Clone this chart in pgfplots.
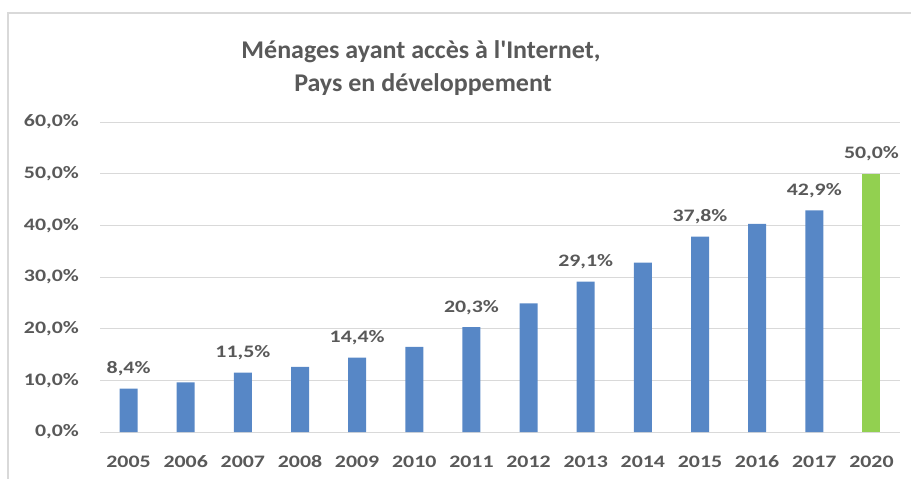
\documentclass[border=0pt]{standalone}
\usepackage{fontspec}
\setmainfont{Carlito}[FakeStretch=1.25]
\newfontfamily\titlefont{Carlito}[FakeStretch=1.02]
\usepackage{pgfplots}
\pgfplotsset{compat=1.18}
\definecolor{barblue}{HTML}{5787C6}
\definecolor{bargreen}{HTML}{92D050}
\definecolor{txtgray}{HTML}{595959}
\definecolor{gridgray}{HTML}{D9D9D9}

\begin{document}
\begin{tikzpicture}
  % page frame (911 x 479)
  \path[use as bounding box] (0pt,0pt) rectangle (911pt,-479pt);
  \draw[gridgray, line width=1.5pt] (8pt,-479pt) -- (8pt,-13pt) -- (911pt,-13pt);

  % title, two lines
  \node[font=\titlefont\bfseries\fontsize{25.5}{30}\selectfont, text=txtgray, anchor=base, inner sep=0pt]
    at (421pt,-58pt) {Ménages ayant accès à l\textquotesingle Internet,};
  \node[font=\titlefont\bfseries\fontsize{25.5}{30}\selectfont, text=txtgray, anchor=base, inner sep=0pt]
    at (423pt,-91.5pt) {Pays en développement};

  \begin{axis}[
    at={(100pt,-432pt)}, anchor=south west,
    scale only axis,
    width=800pt, height=310pt,
    xmin=-0.5, xmax=13.5,
    ymin=0, ymax=60,
    ytick={0,10,...,60},
    xtick={0,...,13},
    xticklabels={2005,2006,2007,2008,2009,2010,2011,2012,2013,2014,2015,2016,2017,2020},
    ymajorgrids,
    grid style={gridgray, line width=1pt},
    axis line style={draw=none},
    major tick length=0pt,
    /pgf/number format/assume math mode=true,
    tick label style={font=\bfseries\fontsize{17.5}{20}\selectfont, text=txtgray, inner sep=0pt},
    yticklabel={\pgfmathprintnumber[fixed,fixed zerofill,precision=1,use comma]{\tick}\%},
    yticklabel style={anchor=east, xshift=-21pt},
    xticklabel style={anchor=base, yshift=-35.5pt},
    ybar, bar width=18pt, bar shift=0pt,
    nodes near coords={\pgfmathprintnumber[fixed,fixed zerofill,precision=1,use comma]{\pgfplotspointmeta}\%},
    nodes near coords style={font=\bfseries\fontsize{17.5}{20}\selectfont, text=txtgray, anchor=base, inner sep=0pt, yshift=15pt},
  ]
    % years without labels
    \addplot[fill=barblue, draw=none, nodes near coords=\empty] coordinates {
      (1,9.6) (3,12.6) (5,16.5) (7,24.9) (9,32.8) (11,40.3)
    };
    % labelled years
    \addplot[fill=barblue, draw=none] coordinates {
      (0,8.4) (2,11.5) (4,14.4) (6,20.3) (8,29.1) (10,37.8) (12,42.9)
    };
    % 2020 target
    \addplot[fill=bargreen, draw=none] coordinates {
      (13,50.0)
    };
  \end{axis}
\end{tikzpicture}
\end{document}
